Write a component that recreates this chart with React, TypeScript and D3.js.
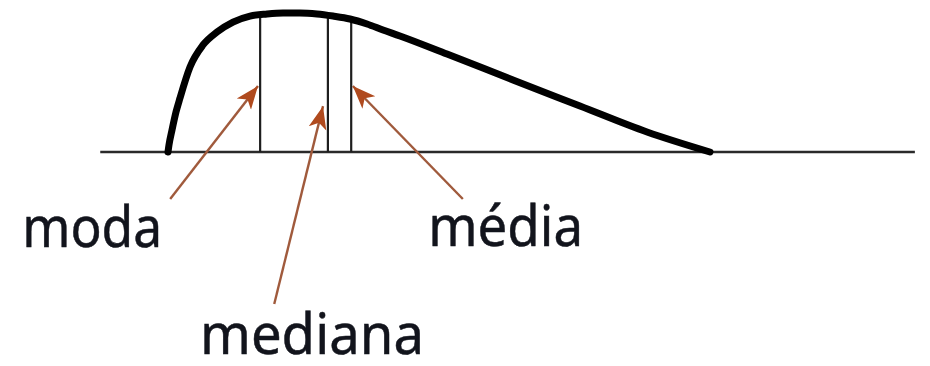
import React, { useEffect } from "react";
import * as d3 from "d3";

// Right-skewed frequency curve (x: value, 0–100; y: relative frequency, 0–1)
const curveX = [0, 0.18, 0.74, 1.48, 2.21, 4.06, 6.46, 9.04, 11.99, 15.13, 18.27, 21.22, 24.35, 27.49, 30.44, 33.58, 36.72, 39.67, 42.8, 51.48, 63.65, 76.01, 88.38, 100];
const curveY = [0, 0.05, 0.158, 0.288, 0.388, 0.612, 0.77, 0.863, 0.935, 0.978, 0.993, 1.0, 1.0, 0.993, 0.978, 0.957, 0.921, 0.878, 0.835, 0.705, 0.518, 0.331, 0.144, 0];

// Horizontal axis extent
const axisExtent = [-12.5, 137.8];

// Central-tendency measures: position and height of each vertical line
const measureNames = ["moda", "mediana", "média"];
const measureX = [17.0, 29.5, 33.8];
const measureTop = [0.99, 0.99, 0.965];

// Label anchors (left edge, baseline) and arrow tail/tip, in data units
const labelX = [-26.9, 5.9, 48.0];
const labelY = [-0.683, -1.45, -0.676];
const labelLen = [140, 224, 155];
const arrowTailX = [0.4, 19.6, 54.4];
const arrowTailY = [-0.338, -1.094, -0.338];
const arrowTipX = [16.6, 28.6, 34.1];
const arrowTipY = [0.475, 0.33, 0.475];

const W = 930;
const H = 366;

export default function App() {
  useEffect(() => {
    document.body.style.margin = "0";
    document.body.style.background = "#fff";
  }, []);

  const x = d3.scaleLinear().domain([0, 100]).range([168, 710]);
  const y = d3.scaleLinear().domain([0, 1]).range([152, 13]);

  const pts: [number, number][] = curveX.map((v, i) => [v, curveY[i]]);
  const line = d3
    .line<[number, number]>()
    .x((d) => x(d[0]))
    .y((d) => y(d[1]))
    .curve(d3.curveMonotoneX);

  const shaftColor = "#a05a3c";
  const headColor = "#b04a1e";

  return (
    <svg width={W} height={H} style={{ display: "block", background: "#fff" }}>
      <defs>
        <marker
          id="head"
          markerUnits="userSpaceOnUse"
          markerWidth={26}
          markerHeight={22}
          refX={23}
          refY={11}
          orient="auto"
        >
          <path d="M0,2 L23,11 L0,20 L6,11 Z" fill={headColor} />
        </marker>
      </defs>

      {/* axis */}
      <line
        x1={x(axisExtent[0])}
        x2={x(axisExtent[1])}
        y1={y(0)}
        y2={y(0)}
        stroke="#2a2a2a"
        strokeWidth={2.5}
      />

      {/* measure lines */}
      {measureX.map((m, i) => (
        <line
          key={measureNames[i]}
          x1={x(m)}
          x2={x(m)}
          y1={y(0)}
          y2={y(measureTop[i])}
          stroke="#1e1e1e"
          strokeWidth={2.2}
        />
      ))}

      {/* distribution curve */}
      <path
        d={line(pts) ?? ""}
        fill="none"
        stroke="#000"
        strokeWidth={7}
        strokeLinecap="round"
        strokeLinejoin="round"
      />

      {/* arrows */}
      {measureNames.map((n, i) => (
        <line
          key={"a" + n}
          x1={x(arrowTailX[i])}
          y1={y(arrowTailY[i])}
          x2={x(arrowTipX[i])}
          y2={y(arrowTipY[i])}
          stroke={shaftColor}
          strokeWidth={2.4}
          markerEnd="url(#head)"
        />
      ))}

      {/* labels */}
      {measureNames.map((n, i) => (
        <text
          key={"t" + n}
          x={x(labelX[i])}
          y={y(labelY[i])}
          fontFamily="'Noto Sans', 'DejaVu Sans', sans-serif"
          fontSize={57}
          fontWeight={400}
          fill="#12141c"
          stroke="#12141c"
          strokeWidth={0.5}
          textLength={labelLen[i]}
          lengthAdjust="spacingAndGlyphs"
        >
          {n}
        </text>
      ))}
    </svg>
  );
}
